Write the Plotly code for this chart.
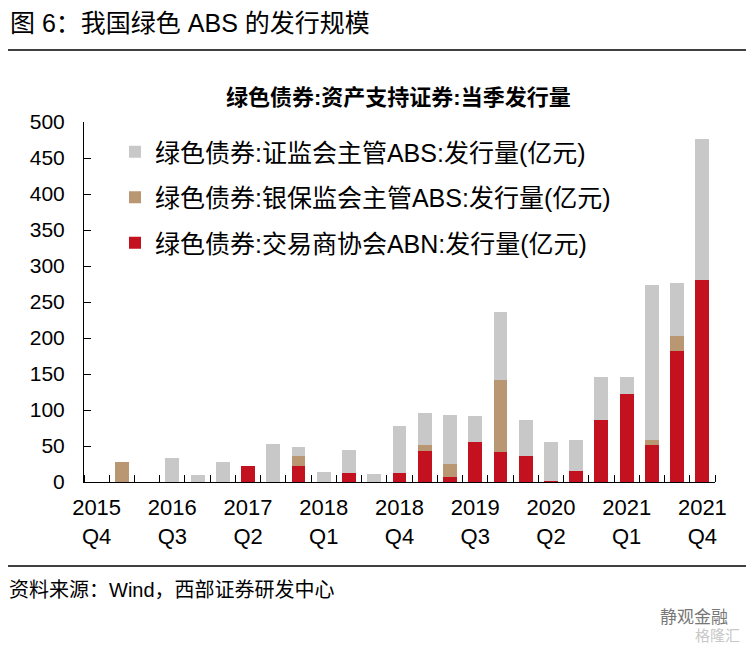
import plotly.graph_objects as go

# ---- data (亿元) ----
quarters = ["2015Q4",
            "2016Q1", "2016Q2", "2016Q3", "2016Q4",
            "2017Q1", "2017Q2", "2017Q3", "2017Q4",
            "2018Q1", "2018Q2", "2018Q3", "2018Q4",
            "2019Q1", "2019Q2", "2019Q3", "2019Q4",
            "2020Q1", "2020Q2", "2020Q3", "2020Q4",
            "2021Q1", "2021Q2", "2021Q3", "2021Q4"]
abn_nafmii = [0, 0, 0, 0, 0, 0, 22, 0, 22, 0, 13, 0, 13,
              43, 7, 55, 41, 36, 1, 15, 86, 122, 51, 182, 280]
abs_cbirc = [0, 28, 0, 0, 0, 0, 0, 0, 14, 0, 0, 0, 0,
             9, 18, 0, 100, 0, 0, 0, 0, 0, 8, 21, 0]
abs_csrc = [0, 0, 0, 34, 10, 28, 0, 53, 13, 14, 31, 11, 65,
            44, 68, 37, 95, 50, 55, 44, 60, 24, 215, 73, 196]
series_names = ["绿色债券:交易商协会ABN:发行量(亿元)",
                "绿色债券:银保监会主管ABS:发行量(亿元)",
                "绿色债券:证监会主管ABS:发行量(亿元)"]
legend_ranks = [3, 2, 1]
label_step = 3
y_ticks = [0, 50, 100, 150, 200, 250, 300, 350, 400, 450, 500]

colors = ["#C3111F", "#B99772", "#C8C8C8"]

OFF = 8  # page body margin
W, H = 754 - 2 * OFF, 651 - 2 * OFF
ML, MT = 84 - OFF, 122 - OFF
PW, PH = 631, 360
MR, MB = W - ML - PW, H - MT - PH


def px(x):
    return (x - OFF - ML) / PW


def py(y):
    return (MT + PH - (y - OFF)) / PH


xpos = list(range(len(quarters)))
tick_idx = xpos[::label_step]
tick_text = [quarters[i][:4] + "<br>" + quarters[i][4:] for i in tick_idx]

fig = go.Figure()
for name, vals, col, rk in zip(series_names, [abn_nafmii, abs_cbirc, abs_csrc],
                               colors, legend_ranks):
    fig.add_trace(go.Bar(x=xpos, y=vals, name=name, legendgroup=name,
                         legendrank=rk,
                         marker=dict(color=col, line=dict(width=0)),
                         width=0.55))

FONT = "Liberation Sans, Arial, Noto Sans CJK SC"

fig.update_layout(
    width=W, height=H, autosize=False,
    margin=dict(l=ML, r=MR, t=MT, b=MB),
    barmode="stack",
    plot_bgcolor="white", paper_bgcolor="white",
    font=dict(family=FONT, color="black"),
    showlegend=True,
    legend=dict(x=px(115), y=py(129), xanchor="left", yanchor="top",
                traceorder="grouped", tracegroupgap=10,
                bgcolor="rgba(0,0,0,0)",
                font=dict(size=25, family=FONT, color="black")),
    xaxis=dict(range=[-0.5, len(quarters) - 0.5], tickmode="array",
               tickvals=tick_idx, ticktext=tick_text, ticks="",
               showline=True, linecolor="black", linewidth=1,
               showgrid=False, zeroline=False,
               tickfont=dict(size=22, family=FONT),
               ticklabelstandoff=6,
               minor=dict(tickvals=[i - 0.5 for i in range(len(quarters) + 1)],
                          ticks="inside", ticklen=7, tickcolor="black",
                          tickwidth=1, showgrid=False)),
    yaxis=dict(range=[0, 500], tickvals=y_ticks, ticks="inside", ticklen=7,
               tickcolor="black", showline=True, linecolor="black",
               linewidth=1, showgrid=False, zeroline=False,
               tickfont=dict(size=21, family=FONT),
               ticklabelstandoff=14),
)

# header / footer
fig.add_annotation(text="图 6：我国绿色 ABS 的发行规模", xref="paper", yref="paper",
                   x=px(8), y=py(23), xanchor="left", yanchor="middle",
                   showarrow=False, font=dict(size=25, family=FONT, color="black"))
fig.add_annotation(text="<b>绿色债券:资产支持证券:当季发行量</b>", xref="paper", yref="paper",
                   x=px(398), y=py(97), xanchor="center", yanchor="middle",
                   showarrow=False, font=dict(size=22, family=FONT, color="black"))
fig.add_annotation(text="资料来源：Wind，西部证券研发中心", xref="paper", yref="paper",
                   x=px(7), y=py(590), xanchor="left", yanchor="middle",
                   showarrow=False, font=dict(size=20, family=FONT, color="black"))
fig.add_annotation(text="静观金融", xref="paper", yref="paper",
                   x=px(694), y=py(617), xanchor="center", yanchor="middle",
                   showarrow=False, font=dict(size=17, family=FONT, color="#777777"))
fig.add_annotation(text="格隆汇", xref="paper", yref="paper",
                   x=px(742), y=py(635), xanchor="right", yanchor="middle",
                   showarrow=False, font=dict(size=15, family=FONT, color="#C8C8C8"))

for yline in (50, 566):
    fig.add_shape(type="line", xref="paper", yref="paper",
                  x0=px(5), x1=px(749), y0=py(yline), y1=py(yline),
                  line=dict(color="black", width=1.5))

fig.write_html("out.html")
